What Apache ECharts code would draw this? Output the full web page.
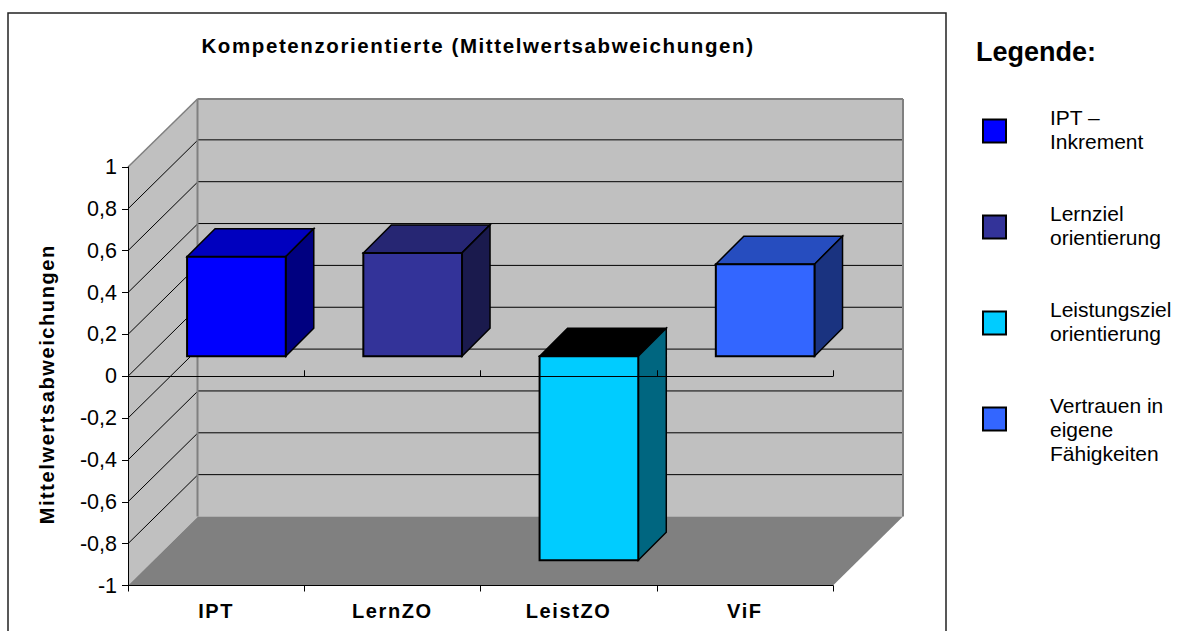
<!DOCTYPE html>
<html>
<head>
<meta charset="utf-8">
<style>
  html, body { margin: 0; padding: 0; background: #fff; }
  #chart { width: 1182px; height: 631px; }
  /* the bold labels of the original are set wide, the legend entries sit a little higher */
  #chart text[style*="bold"] { letter-spacing: 1.6px; }
  #chart text[style*="21px"] { translate: 0 -2px; }
</style>
<script src="https://cdn.jsdelivr.net/npm/echarts@6/dist/echarts.min.js"></script>
</head>
<body>
<div id="chart"></div>
<script>
const categories = ["IPT", "LernZO", "LeistZO", "ViF"];
const values = [0.476, 0.494, -0.975, 0.44];
const legendNames = ["IPT –\nInkrement", "Lernziel\norientierung", "Leistungsziel\norientierung", "Vertrauen in\neigene\nFähigkeiten"];
const frontColors = ["#0000FF", "#333399", "#00CCFF", "#3366FF"];
const topColors = ["#0000BF", "#262673", "#000000", "#264DBF"];
const sideColors = ["#000080", "#1A1A4D", "#006680", "#1A3380"];
const wallTicks = [-0.8, -0.6, -0.4, -0.2, 0, 0.2, 0.4, 0.6, 0.8];

const FONT = '"Liberation Sans", Arial, sans-serif';
// oblique offset of the back wall, and where the bars sit inside that depth
const DEPTH_X = 70, DEPTH_Y = -69;
const BAR_DX = 20.3, BAR_DY = -20, BAR_DEPTH = 28;
const BAR_SHARE = 0.56;

function poly(points, fill, stroke, lineWidth) {
  return {
    type: "polygon",
    shape: { points: points },
    style: { fill: fill, stroke: stroke || null, lineWidth: lineWidth || 0 },
  };
}

function line(x1, y1, x2, y2, color, width) {
  return {
    type: "line",
    shape: { x1: x1, y1: y1, x2: x2, y2: y2 },
    style: { stroke: color, lineWidth: width, fill: null },
  };
}

function renderWalls(params, api) {
  const left = params.coordSys.x;
  const right = left + params.coordSys.width;
  const yTop = api.coord([0, 1])[1];
  const yBottom = api.coord([0, -1])[1];
  const bx = left + DEPTH_X;
  const children = [
    poly([[bx, yTop + DEPTH_Y], [right + DEPTH_X, yTop + DEPTH_Y], [right + DEPTH_X, yBottom + DEPTH_Y], [bx, yBottom + DEPTH_Y]], "#C0C0C0"),
    poly([[left, yTop], [bx, yTop + DEPTH_Y], [bx, yBottom + DEPTH_Y], [left, yBottom]], "#C0C0C0"),
    poly([[left, yBottom], [right, yBottom], [right + DEPTH_X, yBottom + DEPTH_Y], [bx, yBottom + DEPTH_Y]], "#808080"),
  ];
  wallTicks.forEach(function (t) {
    const y = api.coord([0, t])[1];
    children.push(line(left, y, bx, y + DEPTH_Y, "#000", 1));
    children.push(line(bx, y + DEPTH_Y, right + DEPTH_X, y + DEPTH_Y, "#000", 1));
  });
  children.push(line(left, yTop, bx - 0.5, yTop + DEPTH_Y + 1, "#808080", 1.5));
  children.push(line(bx - 0.5, yTop + DEPTH_Y + 1, right + DEPTH_X, yTop + DEPTH_Y + 1, "#808080", 2));
  children.push(line(bx - 0.5, yTop + DEPTH_Y + 1, bx - 0.5, yBottom + DEPTH_Y, "#808080", 2));
  children.push(line(right + DEPTH_X, yTop + DEPTH_Y + 1, right + DEPTH_X, yBottom + DEPTH_Y, "#808080", 2));
  return { type: "group", children: children };
}

function renderBar(params, api) {
  const i = api.value(0);
  const center = api.coord([i, 0])[0];
  const width = api.size([1, 0])[0] * BAR_SHARE;
  const x0 = center - width / 2 + BAR_DX;
  const x1 = x0 + width;
  const ya = api.coord([i, 0])[1] + BAR_DY;
  const yb = api.coord([i, api.value(1)])[1] + BAR_DY;
  const yMin = Math.min(ya, yb), yMax = Math.max(ya, yb);
  const d = BAR_DEPTH;
  return {
    type: "group",
    children: [
      poly([[x0, yMin], [x1, yMin], [x1 + d, yMin - d], [x0 + d, yMin - d]], topColors[i], "#000", 1.5),
      poly([[x1, yMin], [x1 + d, yMin - d], [x1 + d, yMax - d], [x1, yMax]], sideColors[i], "#000", 1.5),
      poly([[x0, yMin], [x1, yMin], [x1, yMax], [x0, yMax]], frontColors[i], "#000", 2),
    ],
  };
}

const chart = echarts.init(document.getElementById("chart"), null, { renderer: "svg" });

const barSeries = categories.map(function (c, i) {
  return {
    type: "custom",
    name: legendNames[i],
    renderItem: renderBar,
    data: [[i, values[i]]],
    encode: { x: 0, y: 1 },
    clip: false,
    silent: true,
    z: 3,
  };
});

const legends = legendNames.map(function (name, i) {
  const threeLines = name.split("\n").length === 3;
  return {
    // the swatch lines up with the first two text lines, a blank first line keeps that for the long entry
    left: 977,
    top: 131 + 96 * i - (threeLines ? 48 : 24) - 5,
    orient: "vertical",
    itemWidth: 23,
    itemHeight: 23,
    selectedMode: false,
    formatter: threeLines ? function (n) { return " \n" + n; } : undefined,
    textStyle: { fontFamily: FONT, fontSize: 21, lineHeight: 24, color: "#000", padding: [0, 0, 0, 39] },
    data: [{
      name: name,
      icon: "rect",
      itemStyle: { color: frontColors[i], borderColor: "#000", borderWidth: 2 },
    }],
  };
});

chart.setOption({
  animation: false,
  backgroundColor: "#fff",
  title: [
    {
      text: "Kompetenzorientierte (Mittelwertsabweichungen)",
      left: 473, top: 30, textAlign: "center",
      textStyle: { fontFamily: FONT, fontSize: 20.5, fontWeight: "bold", color: "#000" },
    },
    {
      text: "Legende:",
      left: 971, top: 33,
      textStyle: { fontFamily: FONT, fontSize: 27, fontWeight: 700, color: "#000" },
    },
  ],
  legend: legends,
  grid: { left: 128, top: 167, width: 705, height: 418.5, containLabel: false },
  xAxis: [
    {
      type: "category",
      data: categories,
      position: "bottom",
      axisLine: { show: true, onZero: false, lineStyle: { color: "#000", width: 1 } },
      axisTick: { show: true, alignWithLabel: false, length: 6, lineStyle: { color: "#000" } },
      axisLabel: { margin: 15, fontFamily: FONT, fontSize: 20, fontWeight: "bold", color: "#000" },
      z: 10,
    },
    {
      // the zero line with its own ticks, drawn across the bars
      type: "category",
      data: categories,
      axisLine: { show: true, onZero: true, lineStyle: { color: "#000", width: 1 } },
      axisTick: { show: true, length: 6, lineStyle: { color: "#000" } },
      axisLabel: { show: false },
      z: 10,
    },
  ],
  yAxis: {
    type: "value",
    min: -1,
    max: 1,
    interval: 0.2,
    name: "Mittelwertsabweichungen",
    nameLocation: "center",
    nameGap: 71,
    nameRotate: 90,
    nameTextStyle: { fontFamily: FONT, fontSize: 20, fontWeight: "bold", color: "#000", padding: [0, 16, 0, 0] },
    axisLine: { show: true, lineStyle: { color: "#000", width: 1 } },
    axisTick: { show: true, length: 6, lineStyle: { color: "#000" } },
    axisLabel: {
      margin: 11,
      fontFamily: FONT,
      fontSize: 21.5,
      color: "#000",
      formatter: function (v) { return String(Math.round(v * 10) / 10).replace(".", ","); },
    },
    splitLine: { show: false },
    z: 10,
  },
  graphic: [{
    type: "rect",
    silent: true,
    shape: { x: 8, y: 13, width: 938, height: 640 },
    style: { fill: null, stroke: "#222", lineWidth: 1.5 },
  }],
  series: [{
    type: "custom",
    name: "walls",
    renderItem: renderWalls,
    data: [[0, 0]],
    encode: { x: 0, y: 1 },
    clip: false,
    silent: true,
    z: 1,
  }].concat(barSeries),
});
</script>
</body>
</html>
